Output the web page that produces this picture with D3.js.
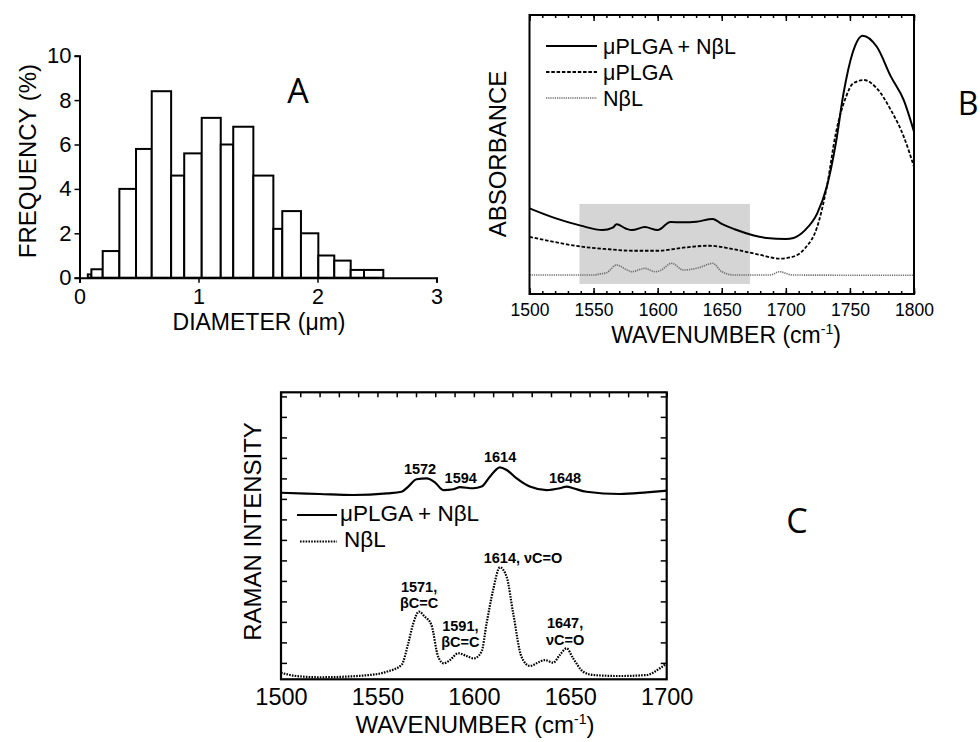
<!DOCTYPE html>
<html>
<head>
<meta charset="utf-8">
<script src="https://cdn.jsdelivr.net/npm/d3@7"></script>
<style>
  body { margin: 0; background: #fff; }
  svg { display: block; }
</style>
</head>
<body>
<div id="chart"></div>
<script>
// Panel A - particle size histogram (bin edges in um, frequency in %)
const binEdges = [0.07, 0.10, 0.195, 0.335, 0.475, 0.607, 0.77, 0.88, 1.027, 1.187, 1.292, 1.461, 1.629, 1.704, 1.861, 2.007, 2.141, 2.279, 2.391, 2.553]
const binFreq = [0.15, 0.38, 1.2, 4.0, 5.8, 8.4, 4.6, 5.6, 7.2, 6.0, 6.8, 4.6, 2.2, 3.0, 2.0, 1.0, 0.77, 0.35, 0.35]
const diamTicks = [0, 1, 2, 3]
const freqTicks = [0, 2, 4, 6, 8, 10]

// Panel B - FTIR absorbance (arbitrary units)
const irBothWn = [1500, 1520, 1540, 1557, 1565, 1568, 1575, 1580, 1590, 1600, 1610, 1620, 1630, 1643, 1650, 1660, 1675, 1685, 1700, 1706, 1715, 1724.5, 1732, 1739, 1745, 1752, 1760, 1771, 1782, 1792, 1800]
const irBothAbs = [0.307, 0.272, 0.245, 0.229, 0.238, 0.250, 0.235, 0.229, 0.240, 0.229, 0.258, 0.257, 0.259, 0.269, 0.251, 0.232, 0.210, 0.201, 0.197, 0.201, 0.229, 0.289, 0.385, 0.540, 0.719, 0.863, 0.926, 0.886, 0.779, 0.695, 0.582]
const irPlgaWn = [1500, 1520, 1540, 1560, 1580, 1600, 1620, 1640, 1660, 1680, 1695, 1705, 1715, 1724.5, 1732, 1739, 1747, 1752.5, 1761, 1771, 1782, 1792, 1800]
const irPlgaAbs = [0.205, 0.186, 0.170, 0.161, 0.155, 0.155, 0.166, 0.173, 0.160, 0.140, 0.127, 0.133, 0.164, 0.241, 0.385, 0.576, 0.707, 0.755, 0.767, 0.737, 0.659, 0.564, 0.456]
const irNblWn = [1500, 1550, 1555, 1560, 1568, 1575, 1580, 1590, 1598, 1602, 1611, 1620, 1632, 1643, 1650, 1660, 1688, 1695, 1705, 1800]
const irNblAbs = [0.068, 0.068, 0.072, 0.076, 0.104, 0.089, 0.080, 0.092, 0.080, 0.084, 0.110, 0.086, 0.094, 0.110, 0.080, 0.068, 0.068, 0.080, 0.068, 0.067]
const irHighlightWn = [1539, 1672]
const irHighlightAbs = [0.036, 0.323]
const irTicks = [1500, 1550, 1600, 1650, 1700, 1750, 1800]
const irLegend = ['μPLGA + NβL', 'μPLGA', 'NβL']

// Panel C - Raman intensity (arbitrary units)
const ramanBothWn = [1500, 1520, 1537.5, 1555, 1562.5, 1566, 1570.3, 1575.5, 1579.8, 1584.2, 1589.4, 1592.8, 1599.7, 1604, 1608.3, 1613.5, 1617, 1622.2, 1629, 1637.7, 1644.6, 1648.1, 1651.5, 1658.4, 1675.7, 1689.6, 1700]
const ramanBothInt = [8.30, 8.24, 8.19, 8.27, 8.35, 8.60, 8.96, 9.00, 8.81, 8.43, 8.47, 8.57, 8.52, 8.60, 9.08, 9.54, 9.41, 9.00, 8.60, 8.43, 8.52, 8.60, 8.52, 8.35, 8.24, 8.32, 8.40]
const ramanNblWn = [1500, 1508, 1520, 1546, 1554.8, 1562.5, 1566, 1568.6, 1571.5, 1574.6, 1578, 1581.5, 1584.4, 1587.6, 1591.9, 1596.2, 1600, 1604, 1606.6, 1610, 1613.5, 1617, 1620.4, 1624.7, 1629, 1634.2, 1636.8, 1641.1, 1644.6, 1648.1, 1651.5, 1656.7, 1661.9, 1675.7, 1689.6, 1696.5, 1700]
const ramanNblInt = [-0.48, -0.64, -0.70, -0.59, -0.43, -0.10, 0.96, 1.93, 2.50, 2.25, 1.85, 0.30, -0.02, 0.14, 0.47, 0.34, 0.22, 0.55, 1.93, 3.56, 4.66, 4.20, 2.42, 0.30, -0.15, 0.06, 0.14, 0.01, 0.39, 0.71, 0.22, -0.43, -0.59, -0.64, -0.59, -0.26, -0.02]
const ramanTicks = [1500, 1550, 1600, 1650, 1700]
const ramanLegend = ['μPLGA + NβL', 'NβL']
// peak labels on the composite spectrum
const bothPeakText = ['1572', '1594', '1614', '1648']
const bothPeakWn = [1572.1, 1593.2, 1613.6, 1647.3]
const bothPeakInt = [9.21, 8.79, 9.79, 8.79]
// band assignments on the NβL spectrum
const nblPeakText = [['1571,', 'βC=C'], ['1591,', 'βC=C'], ['1614, νC=O'], ['1647,', 'νC=O']]
const nblPeakWn = [1571.6, 1593, 1625.5, 1647.3]
const nblPeakInt = [3.47, 1.56, 4.86, 1.69]

const FONT = '"Liberation Sans", Arial, Helvetica, sans-serif'
const fmt = d3.format('d')

const svg = d3.select('#chart')
    .append('svg')
    .attr('width', 980)
    .attr('height', 742)
    .attr('font-family', FONT)

function styleAxis(g, size) {
    g.attr('font-family', FONT).attr('font-size', size)
    g.selectAll('.tick line').attr('stroke', '#000').attr('stroke-width', 1.5)
    g.selectAll('.tick text').attr('fill', '#000')
}

// ---------- Panel A ----------
const xA = d3.scaleLinear().domain([0, 3]).range([79.5, 436.5])
const yA = d3.scaleLinear().domain([0, 10]).range([277.7, 55.7])

svg.append('g')
    .selectAll('rect')
    .data(binFreq)
    .join('rect')
    .attr('x', (d, i) => xA(binEdges[i]))
    .attr('width', (d, i) => xA(binEdges[i + 1]) - xA(binEdges[i]))
    .attr('y', d => yA(d))
    .attr('height', d => yA(0) - yA(d))
    .attr('fill', '#fff')
    .attr('stroke', '#000')
    .attr('stroke-width', 2)

svg.append('g')
    .attr('transform', `translate(0,${yA(0)})`)
    .call(d3.axisBottom(xA).tickValues(diamTicks).tickSize(5).tickPadding(6).tickFormat(fmt))
    .call(g => styleAxis(g, 21.5))
    .call(g => g.select('.domain').attr('stroke-width', 2))

svg.append('g')
    .attr('transform', `translate(${xA(0)},0)`)
    .call(d3.axisLeft(yA).tickValues(freqTicks).tickSize(5).tickPadding(3).tickFormat(fmt))
    .call(g => styleAxis(g, 22))
    .call(g => g.select('.domain').attr('stroke-width', 2))

svg.append('text')
    .attr('x', 259).attr('y', 330)
    .attr('text-anchor', 'middle')
    .attr('font-size', 23)
    .text('DIAMETER (μm)')

svg.append('text')
    .attr('transform', 'translate(36,161) rotate(-90)')
    .attr('text-anchor', 'middle')
    .attr('font-size', 24)
    .text('FREQUENCY (%)')

// ---------- Panel B ----------
const xB = d3.scaleLinear().domain([1500, 1800]).range([529.5, 914])
const yB = d3.scaleLinear().domain([0, 1]).range([294, 15])

svg.append('rect')
    .attr('x', xB(irHighlightWn[0]))
    .attr('width', xB(irHighlightWn[1]) - xB(irHighlightWn[0]))
    .attr('y', yB(irHighlightAbs[1]))
    .attr('height', yB(irHighlightAbs[0]) - yB(irHighlightAbs[1]))
    .attr('fill', '#d5d5d5')

const lineB = d3.line()
    .x(d => xB(d[0]))
    .y(d => yB(d[1]))
    .curve(d3.curveMonotoneX)

const irSeries = [
    { pts: d3.zip(irBothWn, irBothAbs), stroke: '#000', width: 2, dash: null },
    { pts: d3.zip(irPlgaWn, irPlgaAbs), stroke: '#000', width: 1.8, dash: '3.5,1.8' },
    { pts: d3.zip(irNblWn, irNblAbs), stroke: '#6a6a6a', width: 1.6, dash: '1.2,1' }
]

irSeries.forEach(s => {
    svg.append('path')
        .attr('d', lineB(s.pts))
        .attr('fill', 'none')
        .attr('stroke', s.stroke)
        .attr('stroke-width', s.width)
        .attr('stroke-dasharray', s.dash)
})

// ticks on top and bottom, pointing inward
const minorB = d3.range(1500, 1801, 10)
svg.append('g')
    .attr('transform', `translate(0,${yB(0)})`)
    .call(d3.axisBottom(xB).tickValues(minorB).tickSize(-3).tickFormat(''))
    .call(g => styleAxis(g, 17))
    .call(g => g.select('.domain').remove())
svg.append('g')
    .attr('transform', `translate(0,${yB(0)})`)
    .call(d3.axisBottom(xB).tickValues(irTicks).tickSize(-6).tickPadding(9.5).tickFormat(fmt))
    .call(g => styleAxis(g, 17.5))
    .call(g => g.select('.domain').remove())
svg.append('g')
    .attr('transform', `translate(0,${yB(1)})`)
    .call(d3.axisTop(xB).tickValues(minorB).tickSize(-3).tickFormat(''))
    .call(g => styleAxis(g, 17))
    .call(g => g.select('.domain').remove())
svg.append('g')
    .attr('transform', `translate(0,${yB(1)})`)
    .call(d3.axisTop(xB).tickValues(irTicks).tickSize(-6).tickFormat(''))
    .call(g => styleAxis(g, 17))
    .call(g => g.select('.domain').remove())

svg.append('rect')
    .attr('x', xB.range()[0]).attr('y', yB.range()[1])
    .attr('width', xB.range()[1] - xB.range()[0])
    .attr('height', yB.range()[0] - yB.range()[1])
    .attr('fill', 'none')
    .attr('stroke', '#000')
    .attr('stroke-width', 2)

// legend
irLegend.forEach((name, i) => {
    const y = 54 + i * 26
    svg.append('line')
        .attr('x1', 546).attr('x2', 597)
        .attr('y1', y - 8).attr('y2', y - 8)
        .attr('stroke', irSeries[i].stroke)
        .attr('stroke-width', irSeries[i].width)
        .attr('stroke-dasharray', irSeries[i].dash)
    svg.append('text')
        .attr('x', 603).attr('y', y)
        .attr('font-size', 21.5)
        .text(name)
})

svg.append('text')
    .attr('transform', 'translate(506,154) rotate(-90)')
    .attr('text-anchor', 'middle')
    .attr('font-size', 24)
    .text('ABSORBANCE')

const wnLabelB = svg.append('text')
    .attr('x', 726).attr('y', 342.7)
    .attr('text-anchor', 'middle')
    .attr('font-size', 23)
wnLabelB.append('tspan').text('WAVENUMBER (cm')
wnLabelB.append('tspan').attr('dy', -9).attr('font-size', 14).text('-1')
wnLabelB.append('tspan').attr('dy', 9).text(')')

// ---------- Panel C ----------
const xC = d3.scaleLinear().domain([1500, 1700]).range([281, 666.7])
const yC = d3.scaleLinear().domain([-0.8, 13.2]).range([679.3, 392.3])

const lineC = d3.line()
    .x(d => xC(d[0]))
    .y(d => yC(d[1]))
    .curve(d3.curveMonotoneX)

svg.append('path')
    .attr('d', lineC(d3.zip(ramanBothWn, ramanBothInt)))
    .attr('fill', 'none')
    .attr('stroke', '#000')
    .attr('stroke-width', 2.2)

svg.append('path')
    .attr('d', lineC(d3.zip(ramanNblWn, ramanNblInt)))
    .attr('fill', 'none')
    .attr('stroke', '#000')
    .attr('stroke-width', 2.2)
    .attr('stroke-dasharray', '1.6,1.2')

const yTicksC = d3.range(0, 14)
svg.append('g')
    .attr('transform', `translate(${xC(1500)},0)`)
    .call(d3.axisLeft(yC).tickValues(yTicksC).tickSize(-6).tickFormat(''))
    .call(g => styleAxis(g, 20))
    .call(g => g.select('.domain').remove())
svg.append('g')
    .attr('transform', `translate(${xC(1700)},0)`)
    .call(d3.axisRight(yC).tickValues(yTicksC).tickSize(-6).tickFormat(''))
    .call(g => styleAxis(g, 20))
    .call(g => g.select('.domain').remove())
svg.append('g')
    .attr('transform', `translate(0,${yC(13.2)})`)
    .call(d3.axisTop(xC).tickValues(d3.range(1500, 1701, 10)).tickSize(-5).tickFormat(''))
    .call(g => styleAxis(g, 20))
    .call(g => g.select('.domain').remove())
svg.append('g')
    .attr('transform', `translate(0,${yC(-0.8)})`)
    .call(d3.axisBottom(xC).tickValues(ramanTicks).tickSize(0).tickPadding(9.4).tickFormat(fmt))
    .call(g => styleAxis(g, 23.5))
    .call(g => g.select('.domain').remove())

svg.append('rect')
    .attr('x', xC.range()[0]).attr('y', yC.range()[1])
    .attr('width', xC.range()[1] - xC.range()[0])
    .attr('height', yC.range()[0] - yC.range()[1])
    .attr('fill', 'none')
    .attr('stroke', '#000')
    .attr('stroke-width', 2.2)

// peak labels
bothPeakText.forEach((t, i) => {
    svg.append('text')
        .attr('x', xC(bothPeakWn[i])).attr('y', yC(bothPeakInt[i]))
        .attr('text-anchor', 'middle')
        .attr('font-size', 14.5)
        .attr('font-weight', 'bold')
        .text(t)
})

nblPeakText.forEach((lines, i) => {
    const txt = svg.append('text')
        .attr('text-anchor', 'middle')
        .attr('font-size', 14.5)
        .attr('font-weight', 'bold')
    lines.forEach((l, j) => {
        txt.append('tspan')
            .attr('x', xC(nblPeakWn[i]))
            .attr('y', yC(nblPeakInt[i]) + j * 16.5)
            .text(l)
    })
})

// legend
const ramanStyles = [{ width: 2.2, dash: null }, { width: 2.2, dash: '1.6,1.2' }]
ramanLegend.forEach((name, i) => {
    const y = 520.5 + i * 26.5
    svg.append('line')
        .attr('x1', i === 0 ? 297 : 300).attr('x2', 337)
        .attr('y1', y - 5.5).attr('y2', y - 5.5)
        .attr('stroke', '#000')
        .attr('stroke-width', ramanStyles[i].width)
        .attr('stroke-dasharray', ramanStyles[i].dash)
    svg.append('text')
        .attr('x', i === 0 ? 340 : 344).attr('y', y)
        .attr('font-size', 22.5)
        .text(name)
})

svg.append('text')
    .attr('transform', 'translate(261,531.5) rotate(-90)')
    .attr('text-anchor', 'middle')
    .attr('font-size', 24)
    .text('RAMAN INTENSITY')

const wnLabelC = svg.append('text')
    .attr('x', 475).attr('y', 733.3)
    .attr('text-anchor', 'middle')
    .attr('font-size', 24)
wnLabelC.append('tspan').text('WAVENUMBER (cm')
wnLabelC.append('tspan').attr('dy', -9).attr('font-size', 14).text('-1')
wnLabelC.append('tspan').attr('dy', 9).text(')')

// ---------- panel letters ----------
const panelLetters = ['A', 'B', 'C']
const letterPos = [[298, 103], [968, 115], [797, 533]]
panelLetters.forEach((l, i) => {
    svg.append('text')
        .attr('x', letterPos[i][0]).attr('y', letterPos[i][1])
        .attr('text-anchor', 'middle')
        .attr('font-family', '"Open Sans", sans-serif')
        .attr('font-size', i === 1 ? 32 : 34)
        .text(l)
})

console.log('chart rendered')
</script>
</body>
</html>
